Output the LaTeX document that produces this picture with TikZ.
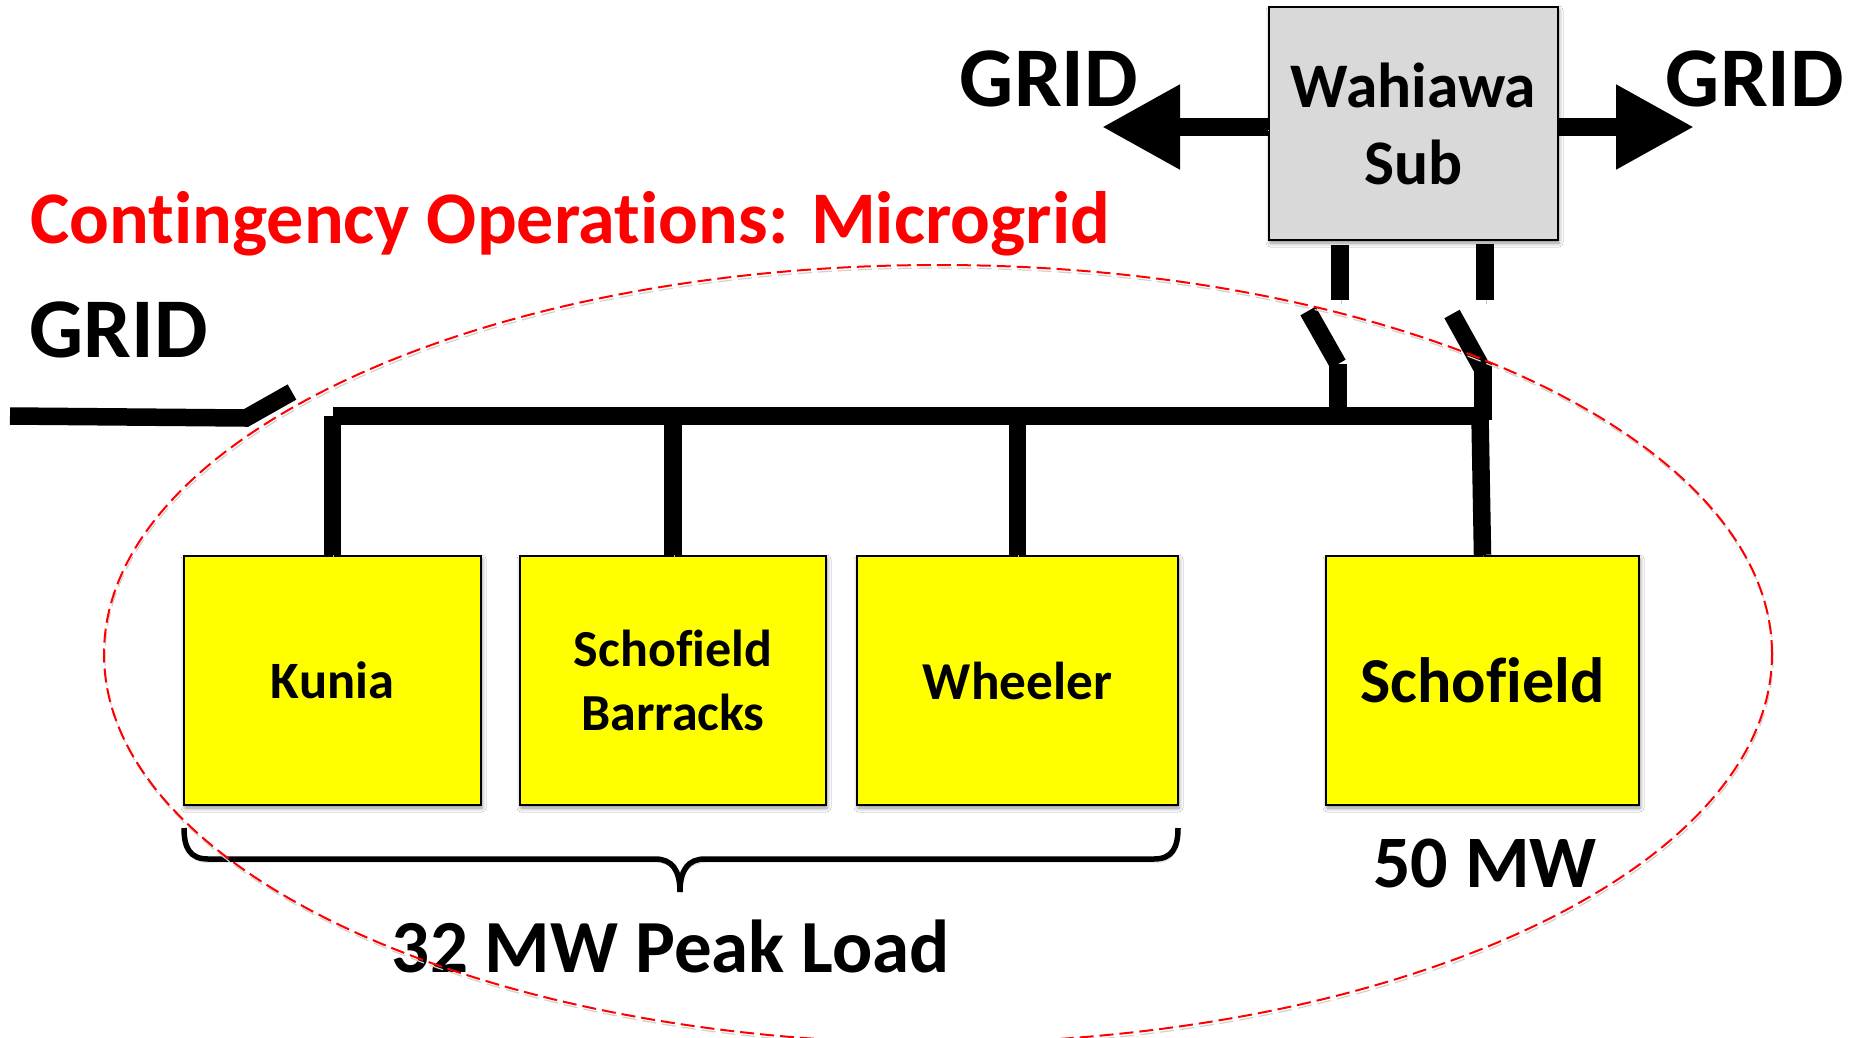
\documentclass[tikz,border=0pt]{standalone}
\usepackage{fontspec}
\setmainfont[Ligatures=NoCommon]{Carlito}
\usetikzlibrary{arrows.meta,shadows.blur}
\definecolor{subgray}{RGB}{217,217,217}
\definecolor{loadyellow}{rgb}{1,1,0}
\definecolor{pureblack}{rgb}{0,0,0}
\definecolor{purered}{rgb}{1,0,0}
\tikzset{
  softsh/.style={preaction={draw=black!24,transform canvas={xshift=1pt,yshift=-3.5pt}}},
  box/.style={draw=pureblack,line width=2.4pt,inner sep=0pt,align=center,font=\bfseries,
    blur shadow={shadow xshift=1pt,shadow yshift=-3pt,shadow blur radius=4pt,shadow opacity=45}},
  loadbox/.style={box,fill=loadyellow,minimum height=249pt},
  wire/.style={draw=pureblack,line width=17.5pt,softsh},
  gridarrow/.style={wire,line width=18pt,-{Triangle[length=78pt,width=80pt]}},
  lbl/.style={inner sep=0pt,font=\bfseries,align=center},
  boundary/.style={draw=purered,line width=2pt,dash pattern=on 14pt off 6pt},
  bracket/.style={draw=pureblack,line width=5.5pt,softsh}
}
\begin{document}
\begin{tikzpicture}[x=1pt,y=-1pt]
\useasboundingbox (0,0) rectangle (1858,1037);
\fill[white] (0,0) rectangle (1858,1037);
\clip (0,0) rectangle (1858,1037);

% boxes
\node[box,fill=subgray,minimum width=289pt,minimum height=233pt,font=\bfseries\fontsize{63.5}{77}\selectfont] (sub) at (1413.5,123.5) {Wahiawa\\Sub};
\node[loadbox,minimum width=297pt,font=\bfseries\fontsize{52.5}{64}\selectfont] (kunia) at (332.5,680.5) {Kunia};
\node[loadbox,minimum width=306pt,font=\bfseries\fontsize{52}{64}\selectfont] (barracks) at (673,680.5) {Schofield\\Barracks};
\node[loadbox,minimum width=321pt,font=\bfseries\fontsize{53.3}{64}\selectfont] (wheeler) at (1017.5,680.5) {Wheeler};
\node[loadbox,minimum width=313pt,font=\bfseries\fontsize{64}{72}\selectfont] (schofield) at (1482.5,680.5) {Schofield};

% texts
\node[lbl,font=\bfseries\fontsize{85}{96}\selectfont] (gridA) at (1049,79) {GRID};
\node[lbl,font=\bfseries\fontsize{85}{96}\selectfont] (gridB) at (1755,79) {GRID};
\node[lbl,font=\bfseries\fontsize{85}{96}\selectfont] (gridC) at (118.5,330) {GRID};
\node[lbl,text=purered,anchor=west,font=\bfseries\fontsize{74.2}{84}\selectfont] (title) at (30,224) {Contingency Operations: Microgrid};
\node[lbl,font=\bfseries\fontsize{74}{86}\selectfont] (mwA) at (1485,863) {50 MW};
\node[lbl,font=\bfseries\fontsize{75}{86}\selectfont] (mwB) at (671,946) {32 MW Peak Load};

% grid arrows
\coordinate (tipL) at (1102,127);
\coordinate (tipR) at (1694,127);
\draw[gridarrow] (sub.west |- tipL) -- (tipL);
\draw[gridarrow] (sub.east |- tipR) -- (tipR);

% bus coordinates
\coordinate (busK) at (332.5,416);
\coordinate (busM) at (1338,416);
\coordinate (busS) at (1480,416);

% stubs under substation
\coordinate (stubAt) at (1340,245);
\coordinate (stubAb) at (1340,300);
\coordinate (stubBt) at (1485,244);
\coordinate (stubBb) at (1485,300);
\draw[wire] (stubAt) -- (stubAb);
\draw[wire] (stubBt) -- (stubBb);

% switch blades and risers
\coordinate (bladeAt) at (1308,311);
\coordinate (bladeAb) at (1338,364);
\coordinate (bladeBt) at (1452,314);
\coordinate (bladeBb) at (1482,368);
\draw[wire] (bladeAt) -- (bladeAb);
\draw[wire] (bladeBt) -- (bladeBb);
\draw[wire] (1338,364) -- (busM);
\draw[wire] (1483,362) -- (1483,420);

% bus
\draw[wire] (333,416) -- (busS);
\draw[wire] (busK) -- (kunia.north);
\draw[wire] (barracks.north |- busK) -- (barracks.north);
\draw[wire] (wheeler.north |- busK) -- (wheeler.north);
\draw[wire] (busS) -- (schofield.north);

% grid feeder with open switch
\coordinate (feedA) at (10,416);
\coordinate (feedB) at (246,418);
\coordinate (feedC) at (292,392);
\draw[wire,line join=miter] (feedA) -- (feedB) -- (feedC);

% bracket
\coordinate (brL) at (184,828);
\coordinate (brR) at (1178,828);
\coordinate (brTip) at (680,892);
\draw[bracket] (brL) .. controls (184,848) and (190,859) .. (208,859)
  -- (655,859) .. controls (672,859) and (680,870) .. (brTip)
  .. controls (680,870) and (688,859) .. (705,859)
  -- (1154,859) .. controls (1172,859) and (1178,848) .. (brR);

% microgrid boundary
\coordinate (mgC) at (938,654);
\draw[boundary,preaction={draw=black!18,line width=1.2pt,transform canvas={xshift=1pt,yshift=-3pt},dash pattern=on 14pt off 6pt}] (mgC) ellipse [x radius=834pt,y radius=389pt];
\end{tikzpicture}
\end{document}
